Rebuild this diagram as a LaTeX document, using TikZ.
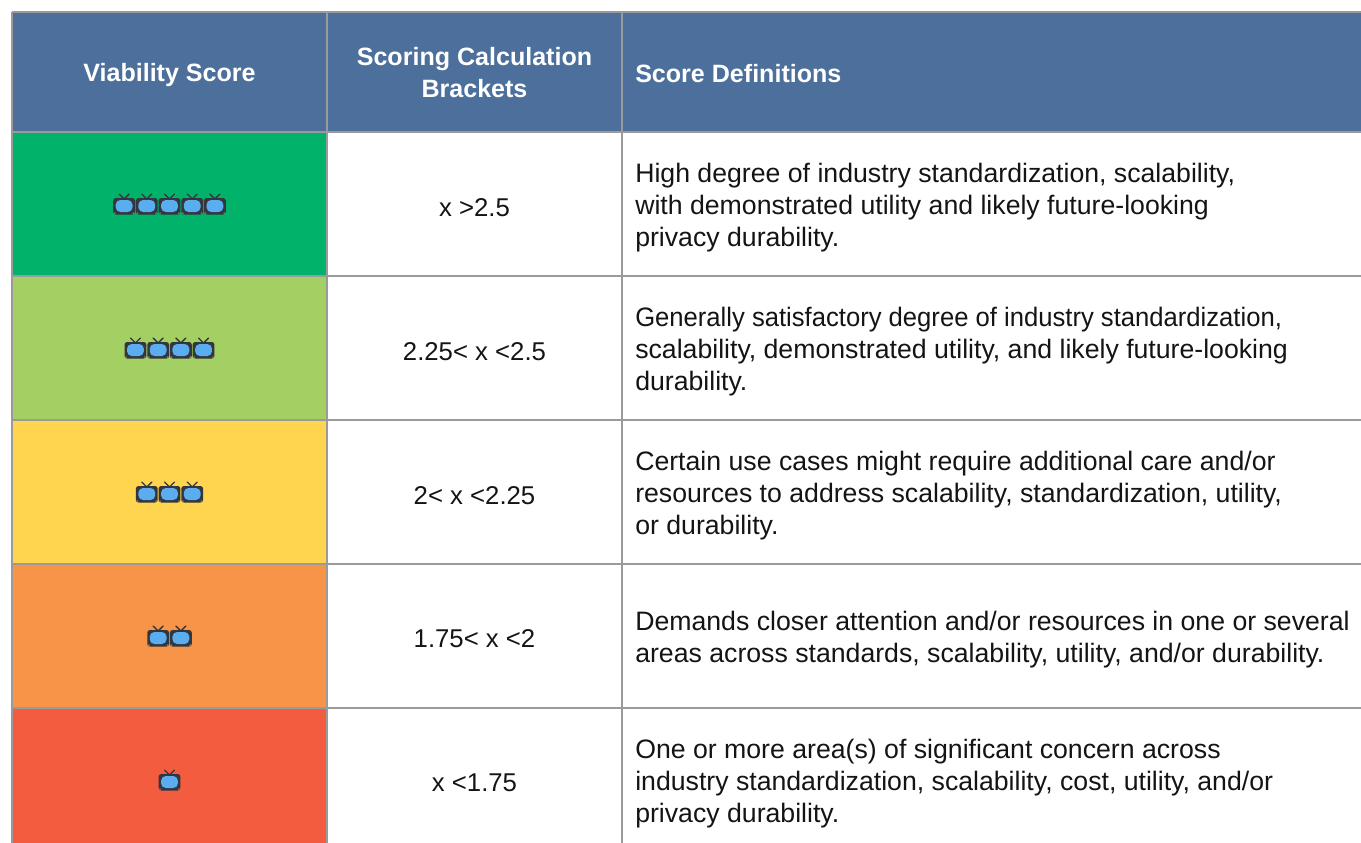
\documentclass[tikz,border=0pt]{standalone}
\usepackage{fontspec}
\usepackage{graphicx}
\setmainfont{Liberation Sans}
\definecolor{hdr}{HTML}{4C6F9C}
\definecolor{rule}{HTML}{9A9A9A}
\definecolor{cA}{HTML}{00B26A}
\definecolor{cB}{HTML}{A4CF62}
\definecolor{cC}{HTML}{FFD44F}
\definecolor{cD}{HTML}{F79447}
\definecolor{cE}{HTML}{F45C40}
\definecolor{tvbody}{HTML}{33363D}
\definecolor{tvscreen}{HTML}{5AADEE}
\definecolor{tvfoot}{HTML}{6E7178}
\definecolor{txt}{HTML}{141414}
\tikzset{
  x=0.75pt,y=-0.75pt,
  grid/.style={draw=rule,line width=2pt},
  head/.style={font=\fontsize{18.8}{24}\selectfont\bfseries,text=white,align=center,inner sep=0pt},
  cellc/.style={font=\fontsize{19.3}{24}\selectfont,text=txt,align=center,inner sep=0pt},
  celll/.style={font=\fontsize{20}{24}\selectfont,text=txt,align=left,anchor=west,inner sep=0pt},
  pics/tv/.style={code={
    \draw[tvbody,line width=1pt,line cap=round] (-5,-11) -- (0,-6) -- (5,-11);
    \fill[tvbody,rounded corners=2pt] (-10.9,-7) rectangle (10.9,9.5);
    \fill[tvscreen,rounded corners=3.5pt] (-8.4,-5) rectangle (8.4,7);
    \fill[tvfoot] (-9.4,8.2) circle (0.8pt) (9.4,8.2) circle (0.8pt);
  }}
}
\newcommand{\tvrow}[3]{\foreach \i in {1,...,#2}{\pic at ({169.5+(\i-(#2+1)/2)*22.7},#3) {tv};}}
\begin{document}
\begin{tikzpicture}
\useasboundingbox (0,0) rectangle (1361,843);
\fill[hdr] (12,12) rectangle (1361,132);
\fill[cA] (12,132) rectangle (327,276);
\fill[cB] (12,276) rectangle (327,420);
\fill[cC] (12,420) rectangle (327,564);
\fill[cD] (12,564) rectangle (327,708);
\fill[cE] (12,708) rectangle (327,843);
\foreach \y in {12,132,276,420,564,708} \draw[grid] (12,\y) -- (1361,\y);
\foreach \x in {12,327,622} \draw[grid] (\x,12) -- (\x,843);
\tvrow{1}{5}{205}
\tvrow{2}{4}{349}
\tvrow{3}{3}{493}
\tvrow{4}{2}{637}
\tvrow{5}{1}{781}
\node[head] (h1) at (169.5,75) {Viability Score};
\node[head] (h2) at (474.5,73) {Scoring Calculation\\Brackets};
\node[head,anchor=west] (h3) at (635,74) {Score Definitions};
\node[cellc] (b1) at (474.5,208) {x >2.5};
\node[cellc] (b2) at (474.5,352) {2.25< x <2.5};
\node[cellc] (b3) at (474.5,496) {2< x <2.25};
\node[cellc] (b4) at (474.5,639) {1.75< x <2};
\node[cellc] (b5) at (474.5,783) {x <1.75};
\node[celll] (d1) at (635,208) {High degree of industry standardization, scalability,\\with demonstrated utility and likely future-looking\\privacy durability.};
\node[celll] (d2) at (635,352) {\scalebox{0.961}[1]{Generally satisfactory degree of industry standardization,}\\scalability, demonstrated utility, and likely future-looking\\durability.};
\node[celll] (d3) at (635,496) {Certain use cases might require additional care and/or\\resources to address scalability, standardization, utility,\\or durability.};
\node[celll] (d4) at (635,640) {Demands closer attention and/or resources in one or several\\areas across standards, scalability, utility, and/or durability.};
\node[celll] (d5) at (635,784) {One or more area(s) of significant concern across\\industry standardization, scalability, cost, utility, and/or\\privacy durability.};
\end{tikzpicture}
\end{document}
